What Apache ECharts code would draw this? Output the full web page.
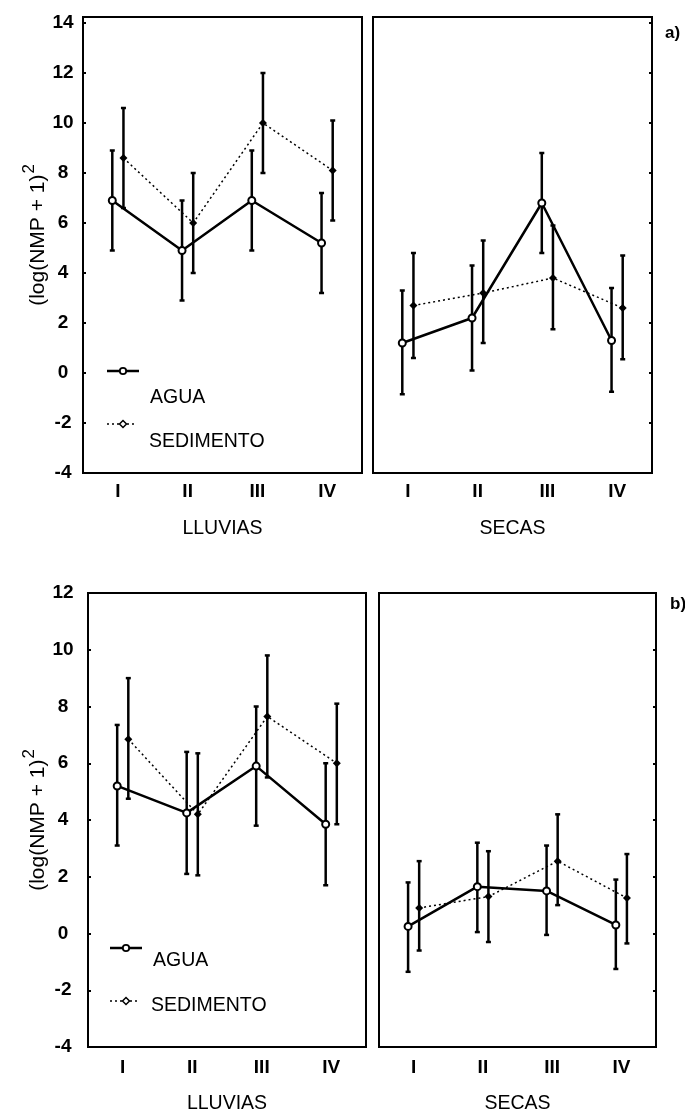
<!DOCTYPE html>
<html>
<head>
<meta charset="utf-8">
<script src="https://cdn.jsdelivr.net/npm/echarts@6/dist/echarts.min.js"></script>
<style>
  body { margin: 0; background: #fff; }
  #chart { width: 685px; height: 1115px; }
</style>
</head>
<body>
<div id="chart"></div>
<script>
var categories = ['I', 'II', 'III', 'IV'];

// a) LLUVIAS
var aLluviasAguaMean = [6.9, 4.9, 6.9, 5.2];
var aLluviasAguaLow = [4.9, 2.9, 4.9, 3.2];
var aLluviasAguaHigh = [8.9, 6.9, 8.9, 7.2];
var aLluviasSedMean = [8.6, 6.0, 10.0, 8.1];
var aLluviasSedLow = [6.6, 4.0, 8.0, 6.1];
var aLluviasSedHigh = [10.6, 8.0, 12.0, 10.1];
// a) SECAS
var aSecasAguaMean = [1.2, 2.2, 6.8, 1.3];
var aSecasAguaLow = [-0.85, 0.1, 4.8, -0.75];
var aSecasAguaHigh = [3.3, 4.3, 8.8, 3.4];
var aSecasSedMean = [2.7, 3.2, 3.8, 2.6];
var aSecasSedLow = [0.6, 1.2, 1.75, 0.55];
var aSecasSedHigh = [4.8, 5.3, 5.9, 4.7];
// b) LLUVIAS
var bLluviasAguaMean = [5.2, 4.25, 5.9, 3.85];
var bLluviasAguaLow = [3.1, 2.1, 3.8, 1.7];
var bLluviasAguaHigh = [7.35, 6.4, 8.0, 6.0];
var bLluviasSedMean = [6.85, 4.2, 7.65, 6.0];
var bLluviasSedLow = [4.75, 2.05, 5.5, 3.85];
var bLluviasSedHigh = [9.0, 6.35, 9.8, 8.1];
// b) SECAS
var bSecasAguaMean = [0.25, 1.65, 1.5, 0.3];
var bSecasAguaLow = [-1.35, 0.05, -0.05, -1.25];
var bSecasAguaHigh = [1.8, 3.2, 3.1, 1.9];
var bSecasSedMean = [0.9, 1.3, 2.55, 1.25];
var bSecasSedLow = [-0.6, -0.3, 1.0, -0.35];
var bSecasSedHigh = [2.55, 2.9, 4.2, 2.8];

var FONT = "'Liberation Sans', Arial, sans-serif";
var OFF_AGUA = -0.08, OFF_SED = 0.08;

var panels = [
    {box: {left: 83, top: 17, width: 279, height: 456}, yMin: -4, yMax: 14.24, side: 'left', xName: 'LLUVIAS',
     agua: [aLluviasAguaMean, aLluviasAguaLow, aLluviasAguaHigh], sed: [aLluviasSedMean, aLluviasSedLow, aLluviasSedHigh],
     labMargin: 9, nameGap: 46, yGap: 31, yMargin: 20, yNamePad: [0, 0, 0, 20]},
    {box: {left: 373, top: 17, width: 279, height: 456}, yMin: -4, yMax: 14.24, side: 'right', xName: 'SECAS',
     agua: [aSecasAguaMean, aSecasAguaLow, aSecasAguaHigh], sed: [aSecasSedMean, aSecasSedLow, aSecasSedHigh],
     labMargin: 9, nameGap: 46},
    {box: {left: 88, top: 593, width: 278, height: 456}, yMin: -4, yMax: 12, side: 'left', xName: 'LLUVIAS',
     agua: [bLluviasAguaMean, bLluviasAguaLow, bLluviasAguaHigh], sed: [bLluviasSedMean, bLluviasSedLow, bLluviasSedHigh],
     labMargin: 11, nameGap: 47, yGap: 36, yMargin: 25, yNamePad: [0, 0, 0, 0]},
    {box: {left: 379, top: 593, width: 277, height: 456}, yMin: -4, yMax: 12, side: 'right', xName: 'SECAS',
     agua: [bSecasAguaMean, bSecasAguaLow, bSecasAguaHigh], sed: [bSecasSedMean, bSecasSedLow, bSecasSedHigh],
     labMargin: 11, nameGap: 47}
];

function renderErrorBar(params, api) {
    var x = api.value(0);
    var lo = api.coord([x, api.value(1)]);
    var hi = api.coord([x, api.value(2)]);
    var half = 2.5;
    var style = {stroke: '#000', lineWidth: 2.5};
    return {
        type: 'group',
        children: [
            {type: 'line', shape: {x1: lo[0], y1: lo[1], x2: hi[0], y2: hi[1]}, style: style},
            {type: 'line', shape: {x1: hi[0] - half, y1: hi[1], x2: hi[0] + half, y2: hi[1]}, style: style},
            {type: 'line', shape: {x1: lo[0] - half, y1: lo[1], x2: lo[0] + half, y2: lo[1]}, style: style}
        ]
    };
}

var grids = [], xAxes = [], yAxes = [], series = [];
panels.forEach(function (p, g) {
    grids.push({left: p.box.left, top: p.box.top, width: p.box.width, height: p.box.height,
        show: true, borderColor: '#000', borderWidth: 2, backgroundColor: 'transparent'});
    xAxes.push({
        type: 'category', gridIndex: g, data: categories, boundaryGap: true, position: 'bottom',
        axisLine: {onZero: false, lineStyle: {color: '#000', width: 2}},
        axisTick: {alignWithLabel: true, length: 3, lineStyle: {color: '#000', width: 2}},
        axisLabel: {color: '#000', fontFamily: FONT, fontSize: 19, fontWeight: 'bold', margin: p.labMargin},
        name: p.xName, nameLocation: 'middle', nameGap: p.nameGap,
        nameTextStyle: {color: '#000', fontFamily: FONT, fontSize: 19.5}
    });
    xAxes.push({type: 'value', gridIndex: g, min: -0.5, max: 3.5, show: false, axisLine: {onZero: false}});
    var y = {
        type: 'value', gridIndex: g, min: p.yMin, max: p.yMax, interval: 2, position: p.side,
        splitLine: {show: false},
        axisLine: {show: true, onZero: false, lineStyle: {color: '#000', width: 2}},
        axisTick: {show: true, inside: true, length: 3, lineStyle: {color: '#000', width: 2}},
        axisLabel: {show: p.side === 'left', color: '#000', fontFamily: FONT, fontSize: 19, fontWeight: 'bold',
            align: 'center', margin: p.yMargin || 8,
            formatter: function (v) { return (Math.abs(v % 2) < 1e-9) ? String(v) : ''; }}
    };
    if (p.side === 'left') {
        y.name = '{base|(log(NMP + 1)}{sup|2}';
        y.nameLocation = 'middle';
        y.nameGap = p.yGap;
        y.nameTextStyle = {
            color: '#000', fontFamily: FONT, padding: p.yNamePad,
            rich: {
                base: {fontSize: 21, fontFamily: FONT, color: '#000', verticalAlign: 'bottom', lineHeight: 28},
                sup: {fontSize: 17, fontFamily: FONT, color: '#000', verticalAlign: 'top', lineHeight: 28, padding: [0, 0, 0, 1]}
            }
        };
    }
    yAxes.push(y);

    var xi = 2 * g + 1;
    series.push({
        type: 'line', xAxisIndex: xi, yAxisIndex: g, z: 3,
        data: p.sed[0].map(function (v, i) { return [i + OFF_SED, v]; }),
        lineStyle: {color: '#000', width: 1.5, type: [2, 3]},
        symbol: 'diamond', symbolSize: 8, itemStyle: {color: '#000'}
    });
    series.push({
        type: 'line', xAxisIndex: xi, yAxisIndex: g, z: 4,
        data: p.agua[0].map(function (v, i) { return [i + OFF_AGUA, v]; }),
        lineStyle: {color: '#000', width: 2.5},
        symbol: 'emptyCircle', symbolSize: 7, itemStyle: {color: '#000', borderWidth: 2.5}
    });
    [[p.agua, OFF_AGUA], [p.sed, OFF_SED]].forEach(function (s) {
        series.push({
            type: 'custom', xAxisIndex: xi, yAxisIndex: g, z: 2,
            renderItem: renderErrorBar,
            encode: {x: 0, y: [1, 2]},
            data: s[0][1].map(function (lo, i) { return [i + s[1], lo, s[0][2][i]]; })
        });
    });
});

function legendItems(ax, ay, sx, sy, aguaTxt, sedTxt) {
    return [
        {type: 'line', shape: {x1: ax, y1: ay, x2: ax + 32, y2: ay}, style: {stroke: '#000', lineWidth: 2.5}},
        {type: 'circle', shape: {cx: ax + 16, cy: ay, r: 3.2}, style: {fill: '#fff', stroke: '#000', lineWidth: 1.8}},
        {type: 'text', left: aguaTxt[0], top: aguaTxt[1], style: {text: 'AGUA', fill: '#000', font: '19.5px ' + FONT}},
        {type: 'line', shape: {x1: sx, y1: sy, x2: sx + 30, y2: sy}, style: {stroke: '#000', lineWidth: 1.3, lineDash: [2, 3]}},
        {type: 'polygon', shape: {points: [[sx + 16, sy - 3.5], [sx + 19.5, sy], [sx + 16, sy + 3.5], [sx + 12.5, sy]]}, style: {fill: '#fff', stroke: '#000', lineWidth: 1.5}},
        {type: 'text', left: sedTxt[0], top: sedTxt[1], style: {text: 'SEDIMENTO', fill: '#000', font: '19.5px ' + FONT}}
    ];
}

var graphics = []
    .concat(legendItems(107, 371, 107, 424, [150, 388], [149, 432]))
    .concat(legendItems(110, 948, 110, 1001, [153, 951], [151, 996]));
graphics.push({type: 'text', left: 665, top: 25, style: {text: 'a)', fill: '#000', font: 'bold 17px ' + FONT}});
graphics.push({type: 'text', left: 670, top: 596, style: {text: 'b)', fill: '#000', font: 'bold 17px ' + FONT}});

var myChart = echarts.init(document.getElementById('chart'));
myChart.setOption({
    animation: false,
    backgroundColor: '#fff',
    grid: grids,
    xAxis: xAxes,
    yAxis: yAxes,
    series: series,
    graphic: graphics
});
</script>
</body>
</html>
